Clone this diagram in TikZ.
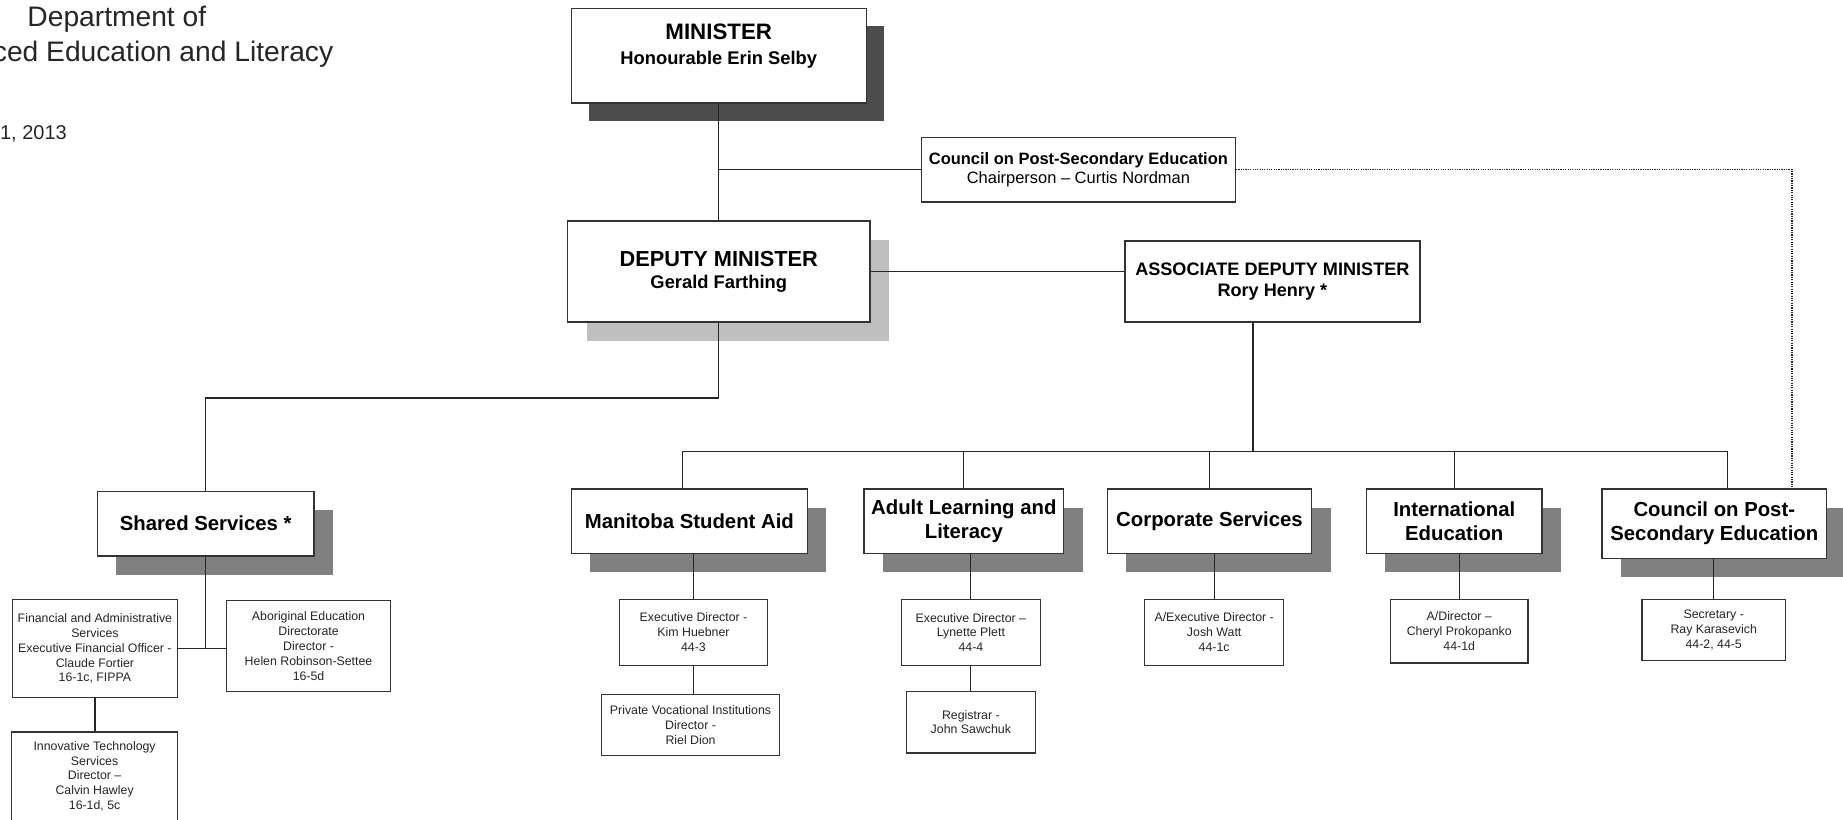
\documentclass[tikz,border=0pt]{standalone}
\usepackage{fontspec}
\setmainfont{Liberation Sans}
\usetikzlibrary{shadows}

\begin{document}
\begin{tikzpicture}[x=1pt,y=-1pt,
    box/.style={draw=black!80, line width=1.2pt, fill=white, inner sep=0pt, align=center},
    unitbox/.style={box, font=\fontsize{17.3}{20.5}\selectfont\bfseries,
      drop shadow={shadow xshift=16pt, shadow yshift=-16pt, fill=black!50, opacity=1}},
    staffbox/.style={box, line width=1pt, text=black!85, font=\fontsize{10.5}{12.6}\selectfont},
    heading/.style={inner sep=0pt, text=black!85},
    link/.style={draw=black!85, line width=1pt}]
    \useasboundingbox (0,0) rectangle (1568,697);

    % title
    \node[heading, anchor=base, font=\fontsize{24}{30}\selectfont] (dept) at (99.4,22.7) {Department of};
    \node[heading, anchor=base east, font=\fontsize{24}{30}\selectfont] (deptname) at (283.7,52.5) {ced Education and Literacy};
    \node[heading, anchor=base east, font=\fontsize{17}{20}\selectfont] (date) at (57,119) {1, 2013};

    % top of the chart
    \node[box, minimum width=251pt, minimum height=80.5pt, font=\fontsize{15.6}{21}\selectfont\bfseries,
      drop shadow={shadow xshift=15pt, shadow yshift=-15pt, fill=black!70, opacity=1}]
      (min) at (611.5,47.3) {{\fontsize{19}{21}\selectfont MINISTER}\\Honourable Erin Selby\\[-2pt]\mbox{}};
    \node[box, minimum width=267pt, minimum height=55pt, font=\fontsize{14}{15.5}\selectfont\bfseries]
      (cope) at (917.5,144.5) {Council on Post-Secondary Education\\{\mdseries Chairperson – Curtis Nordman}};
    \node[box, minimum width=257pt, minimum height=86pt, font=\fontsize{15.6}{19}\selectfont\bfseries,
      drop shadow={shadow xshift=16pt, shadow yshift=-16pt, fill=black!25, opacity=1}]
      (dm) at (611.5,231) {{\fontsize{18.5}{19}\selectfont DEPUTY MINISTER}\\Gerald Farthing};
    \node[box, minimum width=251pt, minimum height=69pt, font=\fontsize{15.4}{18.5}\selectfont\bfseries]
      (adm) at (1082.5,239.5) {ASSOCIATE DEPUTY MINISTER\\Rory Henry *};

    % branches
    \node[unitbox, minimum width=184pt, minimum height=55pt] (ss) at (175,445.5) {Shared Services *};
    \node[unitbox, minimum width=201pt, minimum height=55pt] (msa) at (586.5,443.5) {Manitoba Student Aid};
    \node[unitbox, minimum width=170pt, minimum height=55pt] (all) at (820,443.5) {Adult Learning and\\Literacy};
    \node[unitbox, minimum width=174pt, minimum height=55pt] (cs) at (1029,443.5) {Corporate Services};
    \node[unitbox, minimum width=149.5pt, minimum height=55pt] (ie) at (1237.25,443.5) {International\\Education};
    \node[unitbox, minimum width=191pt, minimum height=59pt] (copse) at (1458.5,445.5) {Council on Post-\\Secondary Education};

    % staff
    \node[staffbox, minimum width=140.5pt, minimum height=83.5pt] (fas) at (80.75,551.75)
      {Financial and Administrative\\Services\\Executive Financial Officer -\\Claude Fortier\\16-1c, FIPPA};
    \node[staffbox, minimum width=139pt, minimum height=77.4pt] (aed) at (262.5,549.7)
      {Aboriginal Education\\Directorate\\Director -\\Helen Robinson-Settee\\16-5d};
    \node[staffbox, minimum width=141pt, minimum height=75.3pt] (its) at (80.5,660.35)
      {Innovative Technology\\Services\\Director –\\Calvin Hawley\\16-1d, 5c};
    \node[staffbox, minimum width=126pt, minimum height=56pt] (ed1) at (590,538)
      {Executive Director -\\Kim Huebner\\44-3};
    \node[staffbox, minimum width=152pt, minimum height=52pt] (pvi) at (587.5,617)
      {Private Vocational Institutions\\Director -\\Riel Dion};
    \node[staffbox, minimum width=118pt, minimum height=56pt] (ed2) at (826,538)
      {Executive Director –\\Lynette Plett\\44-4};
    \node[staffbox, minimum width=110pt, minimum height=52.6pt] (reg) at (826,614.3)
      {Registrar -\\John Sawchuk};
    \node[staffbox, minimum width=118pt, minimum height=56pt] (ed3) at (1033,538)
      {A/Executive Director -\\Josh Watt\\44-1c};
    \node[staffbox, minimum width=117pt, minimum height=54pt] (dir) at (1241.5,537)
      {A/Director –\\Cheryl Prokopanko\\44-1d};
    \node[staffbox, minimum width=122pt, minimum height=52pt] (sec) at (1458,536)
      {Secretary -\\Ray Karasevich\\44-2, 44-5};

    % lines
    \draw[link] (min) -- (dm);
    \draw[link] (cope.west) -- (cope.west -| min.south);
    \draw[link] (dm.east) -- (dm.east -| adm.west);
    \draw[link] (dm.south) -- ++(0,64) -| (ss.north);
    \coordinate (admdrop) at (1066,384);
    \coordinate (busleft) at (581,384);
    \coordinate (busright) at (1470,384);
    \draw[link] (admdrop |- adm.south) -- (admdrop);
    \draw[link] (msa.north -| busleft) -- (busleft) -- (busright) -- (copse.north -| busright);
    \foreach \u in {all,cs,ie}
      \draw[link] (\u.north) -- (\u.north |- busleft);
    \foreach \u/\s in {msa/ed1,all/ed2,cs/ed3,ie/dir,copse/sec}
      \draw[link] (\s.north) -- (\s.north |- \u.south);
    \draw[link] (pvi.north -| ed1.south) -- (ed1.south);
    \draw[link] (reg.north) -- (reg.north |- ed2.south);
    \draw[link] (ss.south) -- (ss.south |- fas.east);
    \draw[link] (fas.east) -- (fas.east -| aed.west);
    \draw[link] (its.north -| fas.south) -- (fas.south);
    \draw[link, densely dotted] (cope.east) -| ([xshift=-30pt]copse.north east);
\end{tikzpicture}
\end{document}
